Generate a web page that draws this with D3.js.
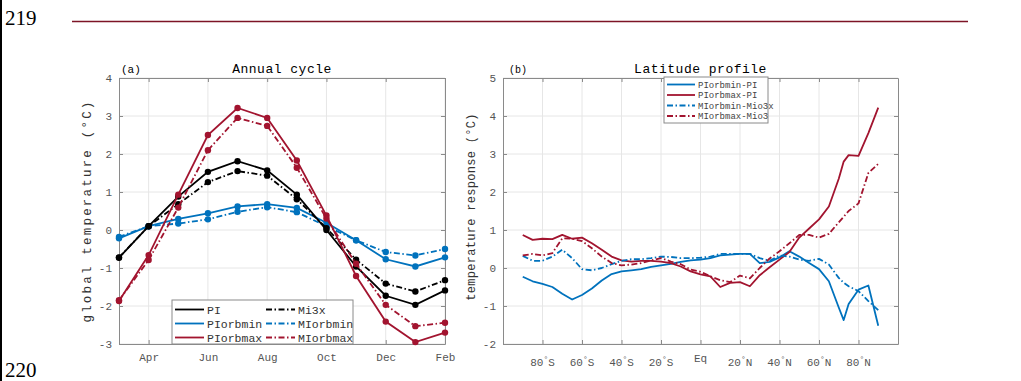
<!DOCTYPE html>
<html>
<head>
<meta charset="utf-8">
<script src="https://cdn.jsdelivr.net/npm/d3@7"></script>
<style>
  body { margin: 0; background: #fff; }
  svg text { font-family: "Liberation Mono", "DejaVu Sans Mono", monospace; }
</style>
</head>
<body>
<svg id="fig" width="1021" height="381"></svg>
<script>
// ---- data: (a) annual cycle, Mar..Feb
const months = ["Mar", "Apr", "May", "Jun", "Jul", "Aug", "Sep", "Oct", "Nov", "Dec", "Jan", "Feb"];
const monthTicks = ["Apr", "Jun", "Aug", "Oct", "Dec", "Feb"];
const PI       = [-0.73, 0.10, 0.88, 1.53, 1.81, 1.57, 0.93, 0.00, -0.96, -1.73, -1.97, -1.59];
const Mi3x     = [-0.72, 0.10, 0.68, 1.26, 1.55, 1.43, 0.81, 0.05, -0.78, -1.41, -1.62, -1.32];
const PIorbmin = [-0.22, 0.10, 0.29, 0.44, 0.62, 0.68, 0.58, 0.19, -0.27, -0.77, -0.96, -0.72];
const MIorbmin = [-0.18, 0.10, 0.17, 0.28, 0.48, 0.60, 0.47, 0.10, -0.27, -0.58, -0.67, -0.50];
const PIorbmax = [-1.87, -0.66, 0.93, 2.50, 3.21, 2.95, 1.83, 0.38, -1.21, -2.41, -2.95, -2.70];
const MIorbmax = [-1.85, -0.79, 0.59, 2.10, 2.95, 2.74, 1.64, 0.30, -0.89, -1.97, -2.53, -2.44];
const cycleTicksY = [-3, -2, -1, 0, 1, 2, 3, 4];

// ---- data: (b) latitude profile
const lat = [-90, -85, -80, -75, -70, -65, -60, -55, -50, -45, -40, -35, -30, -25, -20, -15, -10, -5,
  0, 5, 10, 15, 20, 25, 30, 35, 40, 45, 50, 55, 60, 65, 70, 72.5, 75, 80, 85, 90];
const PIorbminPI = [-0.23, -0.35, -0.42, -0.50, -0.68, -0.83, -0.71, -0.54, -0.33, -0.16, -0.09, -0.06, -0.03, 0.03, 0.07, 0.11, 0.16, 0.20,
  0.22, 0.26, 0.33, 0.35, 0.37, 0.37, 0.13, 0.16, 0.28, 0.44, 0.30, 0.13, -0.03, -0.35, -1.04, -1.37, -0.95, -0.57, -0.46, -1.52];
const PIorbmaxPI = [0.87, 0.74, 0.77, 0.76, 0.87, 0.77, 0.80, 0.65, 0.48, 0.30, 0.20, 0.17, 0.19, 0.19, 0.17, 0.13, 0.04, -0.09,
  -0.17, -0.22, -0.50, -0.39, -0.37, -0.48, -0.19, 0.02, 0.22, 0.42, 0.80, 1.04, 1.28, 1.62, 2.35, 2.80, 2.97, 2.95, 3.55, 4.22];
const MIorbminMio3x = [0.32, 0.19, 0.19, 0.30, 0.48, 0.26, -0.03, -0.06, 0.00, 0.10, 0.19, 0.23, 0.23, 0.26, 0.30, 0.29, 0.26, 0.26,
  0.27, 0.30, 0.37, 0.37, 0.37, 0.37, 0.26, 0.19, 0.33, 0.30, 0.22, 0.19, 0.24, 0.09, -0.26, -0.39, -0.48, -0.61, -0.87, -1.11];
const MIorbmaxMio3 = [0.33, 0.37, 0.33, 0.39, 0.78, 0.77, 0.71, 0.52, 0.30, 0.13, 0.07, 0.09, 0.13, 0.20, 0.26, 0.17, 0.10, -0.04,
  -0.10, -0.22, -0.32, -0.37, -0.20, -0.27, 0.00, 0.25, 0.44, 0.65, 0.87, 0.87, 0.80, 0.90, 1.20, 1.35, 1.50, 1.70, 2.50, 2.74];
const latTicks = [-80, -60, -40, -20, 0, 20, 40, 60, 80];
const latTickLabels = ["80|S", "60|S", "40|S", "20|S", "Eq", "20|N", "40|N", "60|N", "80|N"];
const profileTicksY = [-2, -1, 0, 1, 2, 3, 4, 5];

const blue = "#0072BD", red = "#A2142F", black = "#000000";
const dashDot = "6,2.5,1.5,2.5";

const svg = d3.select("#fig");

// page furniture
svg.append("line").attr("x1", 1).attr("x2", 1).attr("y1", 0).attr("y2", 381)
  .attr("stroke", "#000").attr("stroke-width", 2);
svg.append("line").attr("x1", 72).attr("x2", 968).attr("y1", 21.5).attr("y2", 21.5)
  .attr("stroke", "#7d1426").attr("stroke-width", 1.3);
svg.append("text").attr("x", 5).attr("y", 25).text("219")
  .style("font-family", "Liberation Serif").style("font-size", "21px");
svg.append("text").attr("x", 5).attr("y", 377).text("220")
  .style("font-family", "Liberation Serif").style("font-size", "21px");

function frame(g, x, y, w, h, xTicks, yTicks, xFmt) {
  // grid
  g.append("g").selectAll("line").data(xTicks).join("line")
    .attr("x1", d => x(d)).attr("x2", d => x(d)).attr("y1", 0).attr("y2", h)
    .attr("stroke", "#e6e6e6");
  g.append("g").selectAll("line").data(yTicks).join("line")
    .attr("x1", 0).attr("x2", w).attr("y1", d => y(d)).attr("y2", d => y(d))
    .attr("stroke", "#e6e6e6");

  const style = a => {
    a.selectAll("path").attr("stroke", "#8a8a8a");
    a.selectAll("line").attr("stroke", "#8a8a8a");
    a.selectAll("text").attr("fill", "#555").style("font-size", "11px");
  };
  g.append("g").attr("transform", `translate(0,${h})`)
    .call(d3.axisBottom(x).tickValues(xTicks).tickSizeInner(-4).tickSizeOuter(0).tickPadding(9).tickFormat(xFmt))
    .call(style);
  g.append("g").attr("transform", `translate(0,0)`)
    .call(d3.axisTop(x).tickValues(xTicks).tickSizeInner(-4).tickSizeOuter(0).tickFormat(""))
    .call(style);
  g.append("g")
    .call(d3.axisLeft(y).tickValues(yTicks).tickSizeInner(-4).tickSizeOuter(0).tickPadding(7).tickFormat(d => String(d).replace("−", "-")))
    .call(style);
  g.append("g").attr("transform", `translate(${w},0)`)
    .call(d3.axisRight(y).tickValues(yTicks).tickSizeInner(-4).tickSizeOuter(0).tickFormat(""))
    .call(style);
  g.selectAll(".domain").attr("stroke", "#8a8a8a");
}

// ---------------- panel (a)
const A = { left: 119, top: 78, w: 326, h: 266 };
const ga = svg.append("g").attr("transform", `translate(${A.left},${A.top})`);
const xa = d3.scalePoint().domain(months).range([0, A.w]);
const ya = d3.scaleLinear().domain([-3, 4]).range([A.h, 0]);
frame(ga, xa, ya, A.w, A.h, monthTicks, cycleTicksY, d => d);

const cycleSeries = [
  { name: "PI", values: PI, color: black, dash: null },
  { name: "PIorbmin", values: PIorbmin, color: blue, dash: null },
  { name: "PIorbmax", values: PIorbmax, color: red, dash: null },
  { name: "Mi3x", values: Mi3x, color: black, dash: dashDot },
  { name: "MIorbmin", values: MIorbmin, color: blue, dash: dashDot },
  { name: "MIorbmax", values: MIorbmax, color: red, dash: dashDot }
];
const lineA = d3.line().x((d, i) => xa(months[i])).y(d => ya(d));
const drawOrder = [1, 4, 0, 3, 2, 5];
drawOrder.forEach(k => {
  const s = cycleSeries[k];
  ga.append("path").datum(s.values).attr("d", lineA)
    .attr("fill", "none").attr("stroke", s.color).attr("stroke-width", 1.8)
    .attr("stroke-dasharray", s.dash);
  ga.append("g").selectAll("circle").data(s.values).join("circle")
    .attr("cx", (d, i) => xa(months[i])).attr("cy", d => ya(d)).attr("r", 3.2)
    .attr("fill", s.color);
});

ga.append("text").attr("x", 2).attr("y", -5).text("(a)").style("font-size", "11px");
ga.append("text").attr("x", A.w / 2).attr("y", -5).attr("text-anchor", "middle")
  .text("Annual cycle").style("font-size", "13px").style("letter-spacing", "0.5px");
svg.append("text").attr("transform", `translate(91,${A.top + A.h / 2}) rotate(-90)`)
  .attr("text-anchor", "middle").text("global temperature (°C)")
  .attr("fill", "#333").style("font-size", "12.5px").style("letter-spacing", "2.2px");

// legend (a)
const legA = ga.append("g").attr("transform", `translate(${172 - A.left},${300 - A.top})`);
legA.append("rect").attr("width", 181).attr("height", 44).attr("fill", "#fff").attr("stroke", "#8a8a8a");
cycleSeries.forEach((s, k) => {
  const col = Math.floor(k / 3), row = k % 3;
  const gx = col === 0 ? 3 : 94, gy = 9.5 + row * 14;
  legA.append("line").attr("x1", gx).attr("x2", gx + 29).attr("y1", gy).attr("y2", gy)
    .attr("stroke", s.color).attr("stroke-width", 1.8).attr("stroke-dasharray", s.dash);
  legA.append("text").attr("x", gx + 32).attr("y", gy + 4).text(s.name)
    .attr("fill", "#333").style("font-size", "11.5px");
});

// ---------------- panel (b)
const B = { left: 503, top: 78, w: 395, h: 266 };
const gb = svg.append("g").attr("transform", `translate(${B.left},${B.top})`);
const xb = d3.scaleLinear().domain([-100, 100]).range([0, B.w]);
const yb = d3.scaleLinear().domain([-2, 5]).range([B.h, 0]);
frame(gb, xb, yb, B.w, B.h, latTicks, profileTicksY, () => "");

// custom latitude labels with raised degree sign
const xl = gb.append("g").attr("fill", "#555").style("font-size", "11px");
latTicks.forEach((t, i) => {
  const lab = latTickLabels[i];
  const tx = xl.append("text").attr("x", xb(t)).attr("text-anchor", "middle");
  if (lab === "Eq") {
    tx.attr("y", B.h + 18).text("Eq");
  } else {
    const [n, h] = lab.split("|");
    tx.attr("y", B.h + 22);
    tx.append("tspan").text(n);
    tx.append("tspan").attr("dy", -4).style("font-size", "8px").text("°");
    tx.append("tspan").attr("dy", 4).text(h);
  }
});

const profileSeries = [
  { name: "PIorbmin-PI", values: PIorbminPI, color: blue, dash: null },
  { name: "PIorbmax-PI", values: PIorbmaxPI, color: red, dash: null },
  { name: "MIorbmin-Mio3x", values: MIorbminMio3x, color: blue, dash: dashDot },
  { name: "MIorbmax-Mio3", values: MIorbmaxMio3, color: red, dash: dashDot }
];
const lineB = d3.line().x((d, i) => xb(lat[i])).y(d => yb(d));
profileSeries.forEach(s => {
  gb.append("path").datum(s.values).attr("d", lineB)
    .attr("fill", "none").attr("stroke", s.color).attr("stroke-width", 1.8)
    .attr("stroke-dasharray", s.dash).attr("stroke-linejoin", "round");
});

gb.append("text").attr("x", 6).attr("y", -5).text("(b)").style("font-size", "10px");
gb.append("text").attr("x", B.w / 2).attr("y", -5).attr("text-anchor", "middle")
  .text("Latitude profile").style("font-size", "13px").style("letter-spacing", "0.5px");
svg.append("text").attr("transform", `translate(475,${B.top + B.h / 2 - 4}) rotate(-90)`)
  .attr("text-anchor", "middle").text("temperature response (°C)")
  .attr("fill", "#333").style("font-size", "12px").style("letter-spacing", "0.3px");

// legend (b)
const legB = gb.append("g").attr("transform", `translate(${664 - B.left},${77 - B.top})`);
legB.append("rect").attr("width", 104).attr("height", 46).attr("fill", "#fff").attr("stroke", "#8a8a8a");
profileSeries.forEach((s, k) => {
  const gy = 7.5 + k * 10.5;
  legB.append("line").attr("x1", 3).attr("x2", 31).attr("y1", gy).attr("y2", gy)
    .attr("stroke", s.color).attr("stroke-width", 1.8).attr("stroke-dasharray", s.dash);
  legB.append("text").attr("x", 34).attr("y", gy + 3).text(s.name)
    .attr("fill", "#444").style("font-size", "9px");
});
</script>
</body>
</html>
